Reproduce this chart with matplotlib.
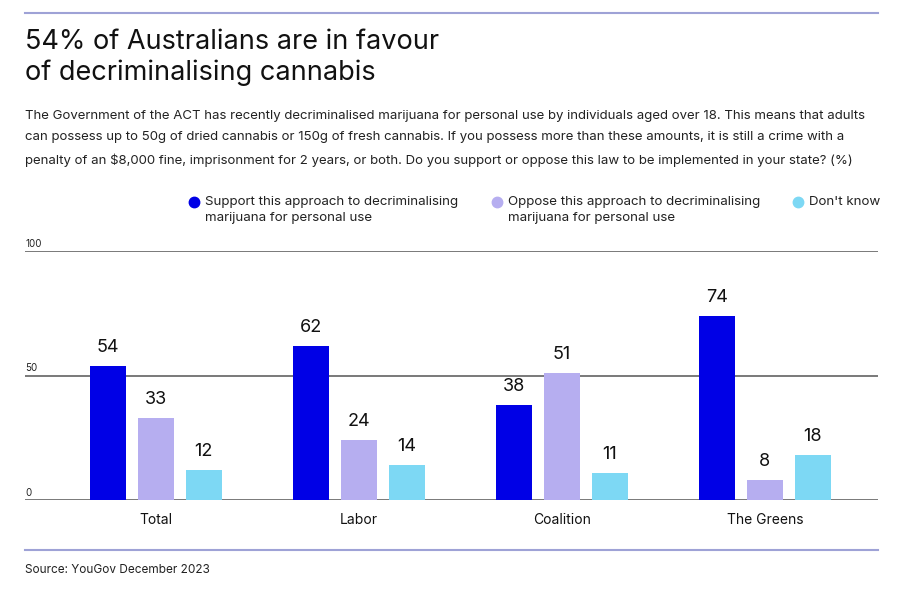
import matplotlib.pyplot as plt
import numpy as np
from matplotlib.lines import Line2D

plt.rcParams["font.family"] = ["Inter", "DejaVu Sans"]

groups = ["Total", "Labor", "Coalition", "The Greens"]
support = [54, 62, 38, 74]
oppose = [33, 24, 51, 8]
dont_know = [12, 14, 11, 18]
series_labels = [
    "Support this approach to decriminalising\nmarijuana for personal use",
    "Oppose this approach to decriminalising\nmarijuana for personal use",
    "Don't know",
]
colors = ["#0000e6", "#b6aef0", "#7dd8f4"]
y_ticks = [0, 50, 100]

W, H = 900, 597
fig = plt.figure(figsize=(W / 100, H / 100), dpi=100)


def fx(px):
    return px / W


def fy(py):
    return 1 - py / H


rule_color = "#9ea2d6"
fig.add_artist(Line2D([fx(25), fx(878)], [fy(13), fy(13)], color=rule_color, lw=1.5))
fig.add_artist(Line2D([fx(25), fx(878)], [fy(550), fy(550)], color=rule_color, lw=1.5))

fig.text(fx(25), fy(29), "54% of Australians are in favour\nof decriminalising cannabis",
         fontsize=19.5, va="top", ha="left", color="#111111", linespacing=1.22)

subtitle = (
    "The Government of the ACT has recently decriminalised marijuana for personal use by individuals aged over 18. This means that adults\n"
    "can possess up to 50g of dried cannabis or 150g of fresh cannabis. If you possess more than these amounts, it is still a crime with a\n"
    "penalty of an $8,000 fine, imprisonment for 2 years, or both. Do you support or oppose this law to be implemented in your state? (%)"
)
fig.text(fx(25), fy(110), subtitle, fontsize=9.5, va="top", ha="left",
         color="#222222", linespacing=2.02)

legend_x = [194, 497, 798]
for x, label, c in zip(legend_x, series_labels, colors):
    fig.add_artist(Line2D([fx(x)], [fy(202)], marker="o", markersize=7.5,
                          color=c, linestyle="none"))
    fig.text(fx(x + 11), fy(196), label, fontsize=9.6, va="top", ha="left",
             color="#222222", linespacing=1.4)

ax = fig.add_axes([fx(25), fy(500), fx(878) - fx(25), fy(251) - fy(500)])

x = np.arange(len(groups))
width = 0.177
step = 0.236
for i, (vals, c) in enumerate(zip([support, oppose, dont_know], colors)):
    pos = x + (i - 1) * step
    ax.bar(pos, vals, width=width, color=c, zorder=2)
    for p, v in zip(pos, vals):
        ax.text(p, v + 4, str(v), ha="center", va="bottom", fontsize=13, color="#111111")

for t in y_ticks:
    ax.axhline(t, color="#555555", lw=1.1, zorder=1)
    ax.text(0.0, t + 0.9, str(t), transform=ax.get_yaxis_transform(),
            fontsize=7, ha="left", va="bottom", color="#222222")

ax.set_xlim(-0.645, 3.557)
ax.set_ylim(0, 100)
ax.set_xticks(x)
ax.set_xticklabels(groups, fontsize=10, color="#111111")
ax.tick_params(axis="x", length=0, pad=9)
ax.set_yticks([])
for s in ax.spines.values():
    s.set_visible(False)
ax.patch.set_alpha(0)

fig.text(fx(25), fy(570), "Source: YouGov December 2023", fontsize=8.5,
         va="center", ha="left", color="#222222")

fig.savefig("out.png", dpi=100)
